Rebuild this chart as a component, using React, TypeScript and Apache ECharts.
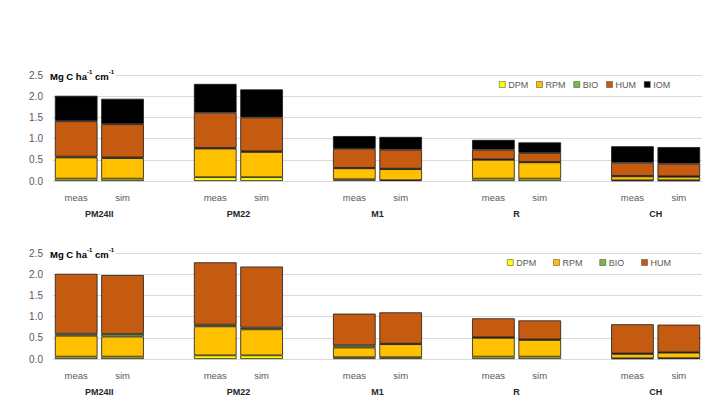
import React, { useEffect, useRef } from "react";
import * as echarts from "echarts";

// Sites and the two bars drawn for each of them
const sites = ["PM24II", "PM22", "M1", "R", "CH"];
const barLabels = ["meas", "sim"];
const yTicks = [0, 0.5, 1.0, 1.5, 2.0, 2.5];

// Upper panel: pools incl. IOM, [meas, sim] per site (Mg C ha-1 cm-1)
const topDPM = [[0.055, 0.055], [0.09, 0.09], [0.04, 0.02], [0.055, 0.055], [0.015, 0.015]];
const topRPM = [[0.5, 0.485], [0.675, 0.595], [0.26, 0.26], [0.445, 0.385], [0.095, 0.085]];
const topBIO = [[0.02, 0.015], [0.015, 0.015], [0.01, 0.01], [0.01, 0.01], [0.01, 0.01]];
const topHUM = [[0.835, 0.785], [0.83, 0.8], [0.45, 0.45], [0.23, 0.21], [0.31, 0.3]];
const topIOM = [[0.6, 0.6], [0.68, 0.66], [0.3, 0.3], [0.23, 0.25], [0.39, 0.39]];

// Lower panel: pools without IOM
const botDPM = [[0.055, 0.055], [0.085, 0.085], [0.04, 0.04], [0.055, 0.055], [0.015, 0.02]];
const botRPM = [[0.495, 0.475], [0.685, 0.615], [0.23, 0.31], [0.445, 0.395], [0.105, 0.13]];
const botBIO = [[0.045, 0.06], [0.04, 0.04], [0.05, 0.01], [0.01, 0.01], [0.01, 0.01]];
const botHUM = [[1.415, 1.39], [1.47, 1.44], [0.75, 0.74], [0.45, 0.45], [0.69, 0.65]];

const poolColors: Record<string, string> = {
  DPM: "#FFFF00",
  RPM: "#FFC000",
  BIO: "#7AB648",
  HUM: "#C55A11",
  IOM: "#000000",
};

// meas, sim, (gap) for every site; no trailing gap after the last one
const categories: string[] = [];
sites.forEach((_, i) => {
  categories.push(...barLabels);
  if (i < sites.length - 1) categories.push("");
});
const siteCenters = sites.map((_, i) => i * 3 + 1);

const spread = (pairs: number[][]) => {
  const out: (number | null)[] = [];
  pairs.forEach((p, i) => {
    out.push(p[0], p[1]);
    if (i < pairs.length - 1) out.push(null);
  });
  return out;
};

const GRAY = "#595959";
const FONT = "Liberation Sans, Arial, sans-serif";

export default function App() {
  const ref = useRef<HTMLDivElement>(null);

  useEffect(() => {
    document.body.style.margin = "0";
    if (!ref.current) return;
    const chart = echarts.init(ref.current, undefined, { renderer: "svg" });

    const grids = [
      { left: 53, right: 11, top: 75, height: 106 },
      { left: 53, right: 11, top: 253, height: 106 },
    ];

    const catAxis = (gridIndex: number) => ({
      type: "category",
      gridIndex,
      data: categories,
      axisLine: { lineStyle: { color: "#D9D9D9" } },
      axisTick: { show: false },
      axisLabel: { color: GRAY, fontSize: 9.5, fontFamily: FONT, margin: 11, interval: 0 },
    });
    const siteAxis = (gridIndex: number) => ({
      type: "value",
      gridIndex,
      min: 0,
      max: categories.length,
      position: "bottom",
      axisLine: { show: false },
      axisTick: { show: false },
      splitLine: { show: false },
      axisLabel: {
        customValues: siteCenters,
        formatter: (v: number) => sites[siteCenters.indexOf(v)] ?? "",
        color: "#262626",
        fontWeight: "bold",
        fontSize: 9,
        fontFamily: FONT,
        margin: 28,
      },
    });
    const valAxis = (gridIndex: number) => ({
      type: "value",
      gridIndex,
      min: yTicks[0],
      max: yTicks[yTicks.length - 1],
      interval: yTicks[1] - yTicks[0],
      axisLine: { show: false },
      axisTick: { show: false },
      splitLine: { lineStyle: { color: "#D9D9D9", width: 1 } },
      axisLabel: {
        color: GRAY,
        fontSize: 10,
        fontFamily: FONT,
        margin: 10,
        formatter: (v: number) => v.toFixed(1),
      },
    });

    const barSeries = (name: string, pairs: number[][], xAxisIndex: number, yAxisIndex: number, stack: string) => ({
      name,
      type: "bar",
      stack,
      xAxisIndex,
      yAxisIndex,
      barWidth: "92%",
      data: spread(pairs),
      itemStyle: { color: poolColors[name], borderColor: "#1A1A1A", borderWidth: 0.8 },
    });

    const legendBase = {
      orient: "horizontal",
      icon: "rect",
      itemWidth: 6,
      itemHeight: 6,
      padding: 0,
      itemStyle: { borderColor: "#404040", borderWidth: 0.5 },
      textStyle: { color: GRAY, fontSize: 9, fontFamily: FONT, padding: [0, 0, 0, -2] },
      selectedMode: false,
    };

    const unitTitle = (top: number) => ({
      type: "text",
      left: 50,
      top,
      z: 10,
      style: {
        text: "{b|Mg C ha}{s|-1}{b| cm}{s|-1}",
        backgroundColor: "#fff",
        padding: [0, 2, 0, 0],
        rich: {
          b: { fontSize: 9.5, fontWeight: "bold", fontFamily: FONT, fill: "#000", lineHeight: 12, verticalAlign: "bottom" },
          s: { fontSize: 6, fontWeight: "bold", fontFamily: FONT, fill: "#000", lineHeight: 12, verticalAlign: "top" },
        },
      },
    });

    chart.setOption({
      animation: false,
      backgroundColor: "#fff",
      grid: grids,
      xAxis: [catAxis(0), siteAxis(0), catAxis(1), siteAxis(1)],
      yAxis: [valAxis(0), valAxis(1)],
      legend: [
        { ...legendBase, data: ["DPM", "RPM", "BIO", "HUM", "IOM"], left: 499, top: 80, itemGap: 8 },
        { ...legendBase, data: ["DPM", "RPM", "BIO", "HUM"], left: 507, top: 258, itemGap: 17 },
      ],
      graphic: [unitTitle(69), unitTitle(247)],
      series: [
        barSeries("DPM", topDPM, 0, 0, "top"),
        barSeries("RPM", topRPM, 0, 0, "top"),
        barSeries("BIO", topBIO, 0, 0, "top"),
        barSeries("HUM", topHUM, 0, 0, "top"),
        barSeries("IOM", topIOM, 0, 0, "top"),
        barSeries("DPM", botDPM, 2, 1, "bottom"),
        barSeries("RPM", botRPM, 2, 1, "bottom"),
        barSeries("BIO", botBIO, 2, 1, "bottom"),
        barSeries("HUM", botHUM, 2, 1, "bottom"),
      ],
    });

    return () => chart.dispose();
  }, []);

  return <div ref={ref} style={{ width: 713, height: 403 }} />;
}
